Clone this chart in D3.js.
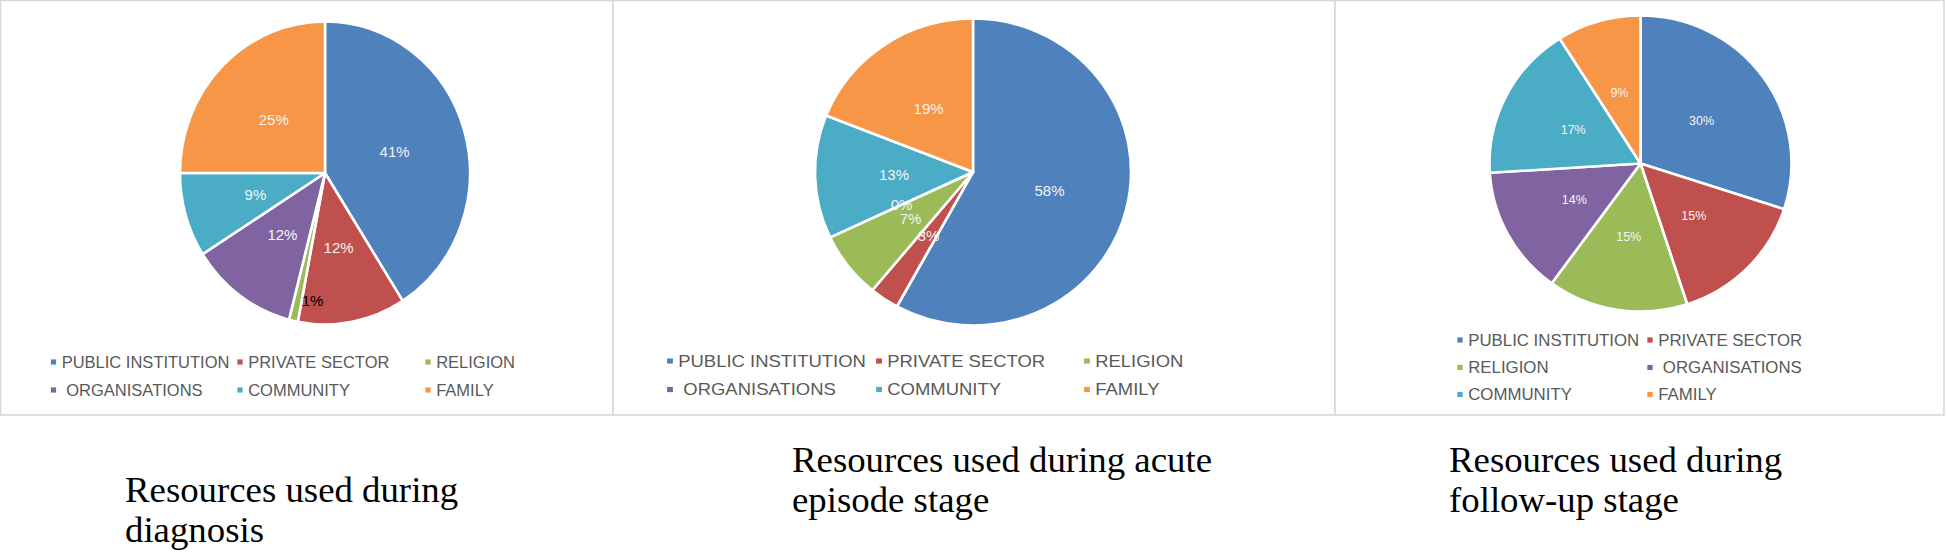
<!DOCTYPE html>
<html>
<head>
<meta charset="utf-8">
<script src="https://cdn.jsdelivr.net/npm/d3@7"></script>
<style>
  body { margin: 0; background: #fff; }
  text { white-space: pre; }
</style>
</head>
<body>
<div id="chart"></div>
<script>
// Data
const categories = ["PUBLIC INSTITUTION", "PRIVATE SECTOR", "RELIGION", " ORGANISATIONS", "COMMUNITY", "FAMILY"];
const diagnosisValues = [41, 12, 1, 12, 9, 25];
const acuteValues = [58, 3, 7, 0, 13, 19];
const followUpValues = [30, 15, 15, 14, 17, 9];
const diagnosisCaption = ["Resources used during", "diagnosis"];
const acuteCaption = ["Resources used during acute", "episode stage"];
const followUpCaption = ["Resources used during", "follow-up stage"];
const colors = ["#4f81bd", "#c0504d", "#9bbb59", "#8064a2", "#4bacc6", "#f79646"];

// Layout
const width = 1946;
const height = 552;

const panels = [
  {
    values: diagnosisValues, caption: diagnosisCaption,
    box: [0.5, 0.5, 613, 415],
    cx: 325, cy: 173, rx: 145, ry: 151.5, labelSize: 15,
    legend: { cols: [53.5, 240, 428], rows: [362, 390], size: 16.5, sx: 1 },
    capX: 125, capY: 502
  },
  {
    values: acuteValues, caption: acuteCaption,
    box: [613, 0.5, 1335, 415],
    cx: 973, cy: 172, rx: 158, ry: 153.5, labelSize: 15,
    legend: { cols: [670, 879, 1087], rows: [361, 389.5], size: 16.5, sx: 1.12 },
    capX: 792, capY: 472
  },
  {
    values: followUpValues, caption: followUpCaption,
    box: [1335, 0.5, 1944, 415],
    cx: 1640.5, cy: 163.5, rx: 151, ry: 148, labelSize: 12.5,
    legend: { cols: [1460, 1650], rows: [340, 367.5, 394.5], size: 16.5, sx: 1.02 },
    capX: 1449, capY: 472
  }
];

const color = d3.scaleOrdinal().domain(categories).range(colors);

const svg = d3.select("#chart").append("svg")
  .attr("width", width)
  .attr("height", height);

const pie = d3.pie().sort(null).value((d) => d.value);

panels.forEach((p) => {
  const data = categories.map((c, i) => ({ name: c, value: p.values[i] }));
  const arcs = pie(data);

  // panel frame
  svg.append("rect")
    .attr("x", p.box[0])
    .attr("y", p.box[1])
    .attr("width", p.box[2] - p.box[0])
    .attr("height", p.box[3] - p.box[1])
    .attr("fill", "#fff")
    .attr("stroke", "#d6d6d6")
    .attr("stroke-width", 1.5);

  // slices (drawn as a circle then stretched to the picture's ellipse)
  const sx = p.rx / p.ry;
  const arc = d3.arc().innerRadius(0).outerRadius(p.ry);
  const g = svg.append("g")
    .attr("transform", `translate(${p.cx},${p.cy}) scale(${sx},1)`);

  g.selectAll("path")
    .data(arcs)
    .enter()
    .append("path")
    .attr("d", arc)
    .attr("fill", (d) => color(d.data.name))
    .attr("stroke", "#fff")
    .attr("stroke-width", 2.6)
    .attr("vector-effect", "non-scaling-stroke")
    .attr("stroke-linejoin", "round");

  // data labels
  const labelArc = d3.arc().innerRadius(p.ry * 0.5).outerRadius(p.ry * 0.5);
  const rimArc = d3.arc().innerRadius(p.ry * 0.86).outerRadius(p.ry * 0.86);
  const lg = svg.append("g").attr("transform", `translate(${p.cx},${p.cy})`);

  lg.selectAll("text")
    .data(arcs)
    .enter()
    .append("text")
    .each(function (d) {
      const tiny = d.data.value > 0 && d.data.value < 2;
      let x, y;
      if (tiny) {
        const a = { startAngle: d.startAngle, endAngle: d.startAngle };
        [x, y] = rimArc.centroid(a);
      } else {
        [x, y] = labelArc.centroid(d);
      }
      d3.select(this)
        .attr("x", x * sx)
        .attr("y", y)
        .attr("text-anchor", tiny ? "start" : "middle")
        .attr("fill", tiny ? "#000" : "#f4f4f4");
    })
    .attr("dy", "0.36em")
    .attr("font-family", "Liberation Sans, Arial, sans-serif")
    .attr("font-size", p.labelSize)
    .text((d) => `${d.data.value}%`);

  // legend
  const nCols = p.legend.cols.length;
  const items = svg.append("g")
    .selectAll("g")
    .data(categories)
    .enter()
    .append("g")
    .attr("transform", (d, i) =>
      `translate(${p.legend.cols[i % nCols]},${p.legend.rows[Math.floor(i / nCols)]}) scale(${p.legend.sx},1)`);

  items.append("rect")
    .attr("x", -2.6)
    .attr("y", -2.6)
    .attr("width", 5.2)
    .attr("height", 5.2)
    .attr("fill", (d) => color(d));

  items.append("text")
    .attr("x", 8.2 / p.legend.sx)
    .attr("dy", "0.36em")
    .attr("font-family", "Liberation Sans, Arial, sans-serif")
    .attr("font-size", p.legend.size)
    .attr("fill", "#595959")
    .text((d) => d);

  // caption below the panel
  svg.append("text")
    .attr("x", p.capX)
    .attr("y", p.capY)
    .attr("font-family", "Liberation Serif, Times New Roman, serif")
    .attr("font-size", 36.8)
    .attr("fill", "#000")
    .selectAll("tspan")
    .data(p.caption)
    .enter()
    .append("tspan")
    .attr("x", p.capX)
    .attr("dy", (d, i) => (i === 0 ? 0 : 40))
    .text((d) => d);
});
</script>
</body>
</html>
